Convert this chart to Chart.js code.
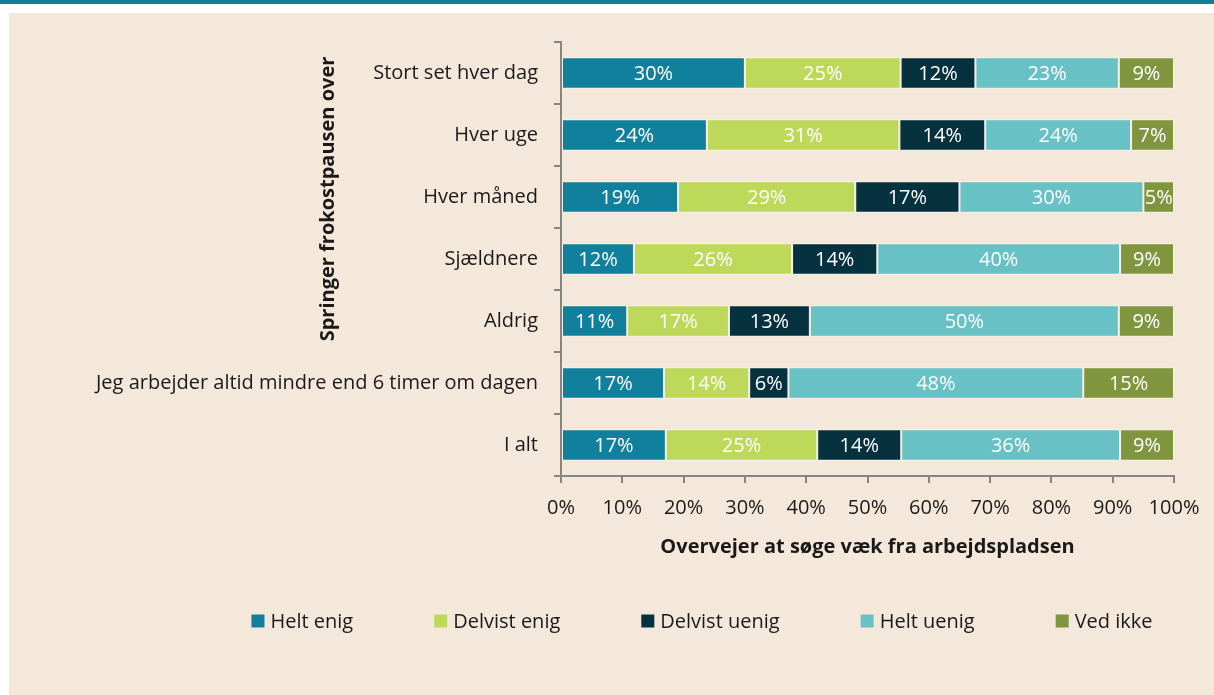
<!DOCTYPE html>
<html><head><meta charset="utf-8">
<script src="https://cdn.jsdelivr.net/npm/chart.js@4.4.0/dist/chart.umd.min.js"></script>
<style>
html,body{margin:0;padding:0;background:#fff;width:1214px;height:695px;overflow:hidden;}
#bar{position:absolute;left:0;top:0;width:1214px;height:4px;background:#117E9B;}
#panel{position:absolute;left:9px;top:13px;width:1205px;height:682px;background:#F4E8DB;}
#c{position:absolute;left:0;top:0;}
</style></head><body>
<div id="bar"></div><div id="panel"></div>
<canvas id="c" width="1214" height="695"></canvas>
<script>
const categories = ["Stort set hver dag","Hver uge","Hver måned","Sjældnere","Aldrig","Jeg arbejder altid mindre end 6 timer om dagen","I alt"];
const seriesNames = ["Helt enig","Delvist enig","Delvist uenig","Helt uenig","Ved ikke"];
const seriesColors = ["#11809C","#BED959","#06323F","#68C1C5","#7F953E"];
const heltEnig     = [30.0, 23.8, 19.1, 11.9, 10.8, 16.8, 17.1];
const delvistEnig  = [25.4, 31.4, 28.9, 25.8, 16.6, 13.9, 24.7];
const delvistUenig = [12.2, 14.0, 17.0, 13.9, 13.2,  6.4, 13.7];
const heltUenig    = [23.4, 23.8, 30.0, 39.6, 50.4, 48.1, 35.7];
const vedIkke      = [ 9.0,  7.0,  5.0,  8.8,  9.0, 14.8,  8.8];
const xTickValues = [0,10,20,30,40,50,60,70,80,90,100];
const xAxisTitle = "Overvejer at søge væk fra arbejdspladsen";
const yAxisTitle = "Springer frokostpausen over";

const FONT = "'Open Sans', 'Noto Sans', sans-serif";
const TEXT = "#1a1a1a";
const AXIS = "#858585";

const allSeries = [heltEnig, delvistEnig, delvistUenig, heltUenig, vedIkke];
const datasets = allSeries.map((d, i) => ({
  label: seriesNames[i],
  data: d,
  backgroundColor: seriesColors[i],
  borderColor: "rgba(255,255,255,0.45)",
  borderWidth: 1,
  borderSkipped: false,
  categoryPercentage: 1,
  barPercentage: 0.51
}));

const labelPlugin = {
  id: "segLabels",
  afterDatasetsDraw(chart) {
    const ctx = chart.ctx;
    ctx.save();
    ctx.font = "20px " + FONT;
    ctx.fillStyle = "#ffffff";
    ctx.textAlign = "center";
    ctx.textBaseline = "middle";
    chart.data.datasets.forEach((ds, di) => {
      const meta = chart.getDatasetMeta(di);
      meta.data.forEach((el, i) => {
        const v = ds.data[i];
        const cx = (el.x + el.base) / 2;
        ctx.fillText(Math.round(v) + "%", cx, el.y + 1);
      });
    });
    ctx.restore();
  }
};

const extrasPlugin = {
  id: "extras",
  afterDraw(chart) {
    const ctx = chart.ctx;
    const area = chart.chartArea;
    ctx.save();
    // y axis title
    ctx.font = "bold 20px " + FONT;
    ctx.fillStyle = TEXT;
    ctx.textAlign = "center";
    ctx.textBaseline = "middle";
    ctx.translate(area.left - 233, 199);
    ctx.rotate(-Math.PI / 2);
    ctx.fillText(yAxisTitle, 0, 0);
    ctx.restore();

    // legend
    ctx.save();
    ctx.font = "20px " + FONT;
    ctx.textBaseline = "middle";
    ctx.textAlign = "left";
    const box = 13, gapBT = 6, gapItem = 81;
    const items = chart.data.datasets.map(ds => ({text: ds.label, color: ds.backgroundColor, w: ctx.measureText(ds.label).width}));
    let total = 0;
    items.forEach((it, i) => { total += box + gapBT + it.w + (i < items.length - 1 ? gapItem : 0); });
    let x = 702 - total / 2;
    const y = 621;
    items.forEach(it => {
      ctx.fillStyle = it.color;
      ctx.fillRect(x, y - box / 2, box, box);
      ctx.fillStyle = TEXT;
      ctx.fillText(it.text, x + box + gapBT, y + 1);
      x += box + gapBT + it.w + gapItem;
    });
    ctx.restore();
  }
};

new Chart(document.getElementById("c"), {
  type: "bar",
  data: { labels: categories, datasets },
  options: {
    indexAxis: "y",
    responsive: false,
    devicePixelRatio: 1,
    animation: false,
    layout: { padding: { left: 20, top: 42, right: 40, bottom: 129 } },
    plugins: { legend: { display: false }, tooltip: { enabled: false } },
    scales: {
      x: {
        stacked: true,
        min: 0, max: 100,
        afterBuildTicks(scale) { scale.ticks = xTickValues.map(v => ({ value: v })); },
        afterFit(scale) { scale.height = 90; },
        ticks: { callback: v => v + "%", color: TEXT, font: { family: FONT, size: 20 }, padding: 13, maxRotation: 0 },
        grid: { display: true, drawOnChartArea: false, drawTicks: true, tickLength: 7, color: AXIS, lineWidth: 2 },
        border: { display: true, color: AXIS, width: 2 },
        title: { display: true, text: xAxisTitle, color: TEXT, font: { family: FONT, size: 20, weight: "bold" }, padding: { top: 0, bottom: 7 } }
      },
      y: {
        stacked: true,
        offset: true,
        afterFit(scale) { scale.width = 541; },
        ticks: { color: TEXT, font: { family: FONT, size: 20 }, padding: 16 },
        grid: { display: true, offset: true, drawOnChartArea: false, drawTicks: true, tickLength: 7, color: AXIS, lineWidth: 2 },
        border: { display: true, color: AXIS, width: 2 }
      }
    }
  },
  plugins: [labelPlugin, extrasPlugin]
});
</script>
</body></html>
